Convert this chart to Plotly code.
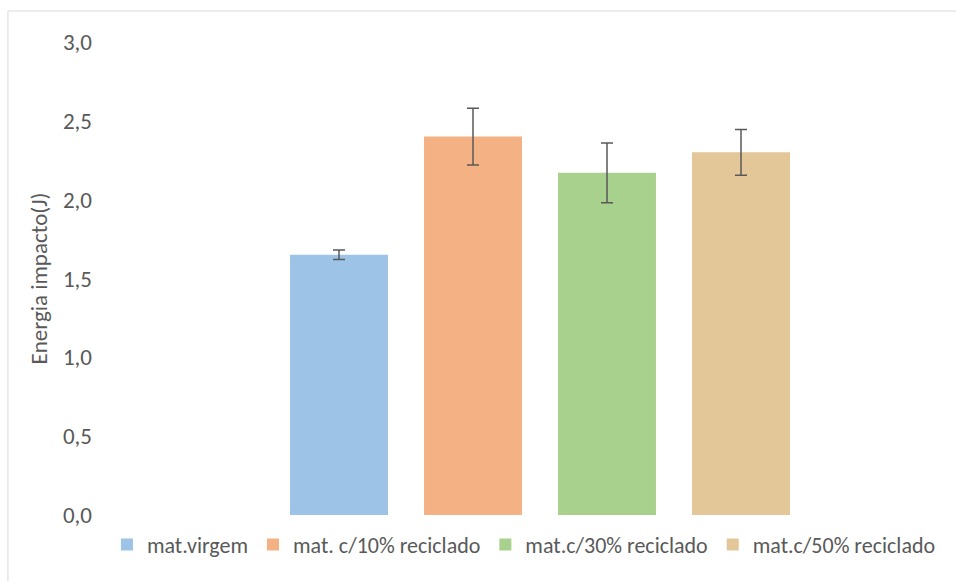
import plotly.graph_objects as go

# Impact energy by material composition (mean ± deviation)
series_names = ["mat.virgem", "mat. c/10% reciclado", "mat.c/30% reciclado", "mat.c/50% reciclado"]
energy_mean = [1.65, 2.40, 2.17, 2.30]
energy_err = [0.03, 0.18, 0.19, 0.145]
colors = ["#9DC3E6", "#F4B183", "#A9D18E", "#E3C799"]
category = ["Energia"]

fig = go.Figure()
for name, val, err, col in zip(series_names, energy_mean, energy_err, colors):
    fig.add_trace(go.Bar(
        x=category, y=[val], name=name,
        marker=dict(color=col, line=dict(width=0)),
        error_y=dict(type="data", array=[err], visible=True,
                     color="#595959", thickness=1.5, width=6),
    ))

font_family = "Carlito, Calibri, Lato, sans-serif"
text_color = "#595959"

fig.update_layout(
    width=956, height=581,
    margin=dict(l=103, r=6, t=42, b=66),
    paper_bgcolor="white", plot_bgcolor="white",
    barmode="group", bargap=0.3867, bargroupgap=0.269,
    separators=",.",
    font=dict(family=font_family, size=22, color=text_color),
    showlegend=True,
    legend=dict(orientation="h", x=0.497, xanchor="center", y=-0.063, yanchor="middle",
                font=dict(size=22, color=text_color), itemwidth=30,
                traceorder="normal", tracegroupgap=0),
    xaxis=dict(range=[-0.5, 0.4691], showticklabels=False, showline=False,
               showgrid=False, zeroline=False, ticks=""),
    yaxis=dict(range=[0, 3.0], dtick=0.5, tickformat=".1f", showgrid=False,
               zeroline=False, showline=False, ticks="", ticklabelstandoff=10,
               tickfont=dict(size=23, color=text_color),
               title=dict(text="Energia impacto(J)", font=dict(size=23, color=text_color),
                          standoff=8)),
    shapes=[dict(type="rect", xref="paper", yref="paper",
                 x0=-0.1122, x1=1.2, y0=-0.5, y1=1.0655,
                 line=dict(color="#D9D9D9", width=1), fillcolor="rgba(0,0,0,0)",
                 layer="below")],
)

fig.write_html("out.html")
